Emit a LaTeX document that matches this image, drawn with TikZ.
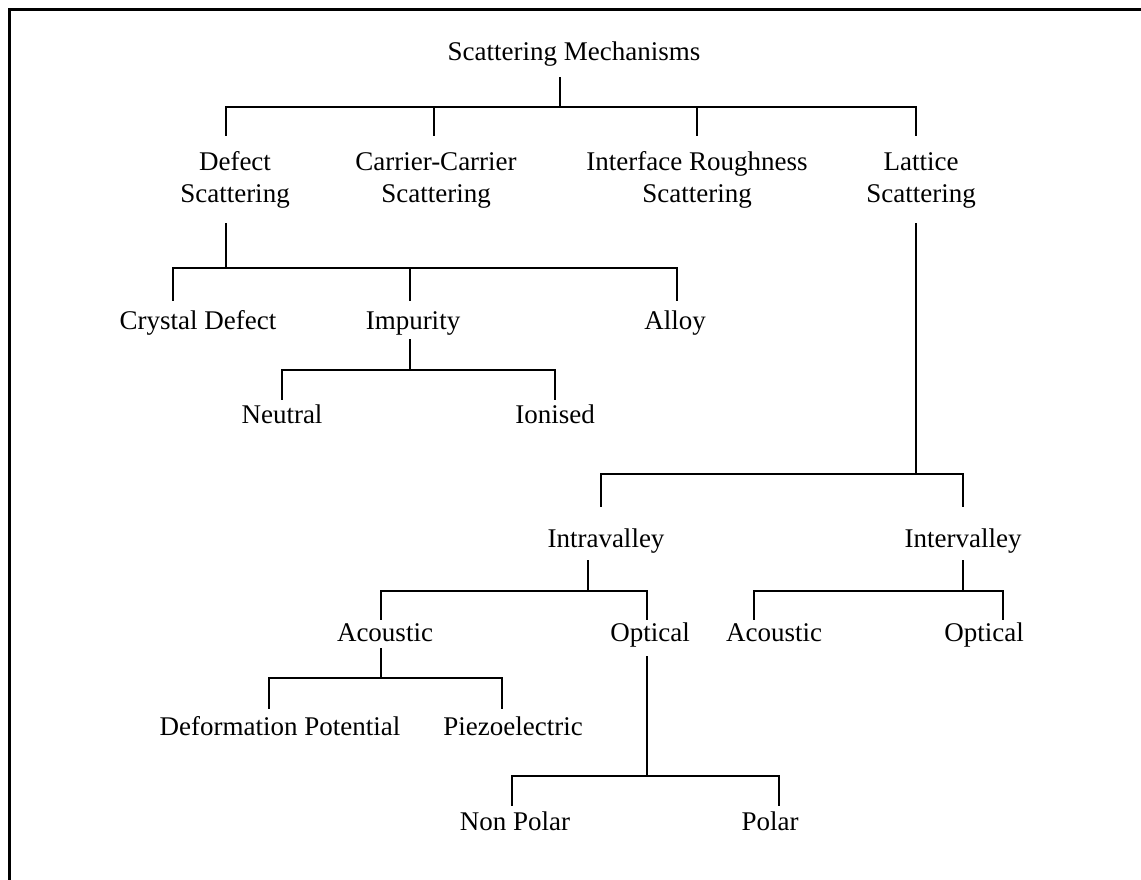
\documentclass[tikz,border=0pt]{standalone}
\usepackage{fontspec}
\setmainfont{Liberation Serif}
\usepackage{tikz}

\newcommand{\twoline}[2]{\begin{tabular}[t]{@{}c@{}}#1\\#2\end{tabular}}

\tikzset{
	lbl/.style={font=\fontsize{27}{32}\selectfont, inner sep=0pt, anchor=base, text height=26pt, text depth=12pt},
	duo/.style={lbl, text height=35pt, text depth=52pt},
	branch/.style={line width=2pt, line join=miter}
}

\begin{document}
\begin{tikzpicture}[x=1pt,y=-1pt]
		\useasboundingbox (0,0) rectangle (1141,880);
		\draw[line width=2.5pt] (1141,9.5)--(9.5,9.5)--(9.5,880);
		% levels of the bars
		\coordinate (b0) at (0,107);
		\coordinate (b1) at (0,268);
		\coordinate (b2) at (0,370);
		\coordinate (b3) at (0,474);
		\coordinate (b4) at (0,591);
		\coordinate (b5) at (0,678);
		\coordinate (b6) at (0,776);
		% labels
		\node[lbl, text depth=16pt] (root) at (574,61) {Scattering Mechanisms};
		\node[duo] (defect) at (235,171) {\twoline{Defect}{Scattering}};
		\node[duo] (carrier) at (436,171) {\twoline{Carrier-Carrier}{Scattering}};
		\node[duo] (interface) at (697,171) {\twoline{Interface Roughness}{Scattering}};
		\node[duo] (lattice) at (921,171) {\twoline{Lattice}{Scattering}};
		\node[lbl, text height=28pt, text depth=10pt] (crystal) at (198,329) {Crystal Defect};
		\node[lbl, text height=28pt, text depth=10pt] (impurity) at (413,329) {Impurity};
		\node[lbl, text height=28pt, text depth=10pt] (alloy) at (675,329) {Alloy};
		\node[lbl, text height=23pt] (neutral) at (282,423) {Neutral};
		\node[lbl, text height=23pt] (ionised) at (555,423) {Ionised};
		\node[lbl, text height=40pt, text depth=13pt] (intra) at (606,547) {Intravalley};
		\node[lbl, text height=40pt, text depth=13pt] (inter) at (963,547) {Intervalley};
		\node[lbl, text height=21pt, text depth=7pt] (acou) at (385,641) {Acoustic};
		\node[lbl, text height=21pt, text depth=15pt] (opt) at (650,641) {Optical};
		\node[lbl, text height=21pt] (racou) at (774,641) {Acoustic};
		\node[lbl, text height=21pt] (ropt) at (984,641) {Optical};
		\node[lbl, text height=26pt] (deform) at (280,735) {Deformation Potential};
		\node[lbl, text height=26pt] (piezo) at (513,735) {Piezoelectric};
		\node[lbl, text height=24pt] (nonpolar) at (515,830) {Non Polar};
		\node[lbl, text height=24pt] (polar) at (770,830) {Polar};
		% scattering mechanisms
		\draw[branch] ([xshift=-14pt]root.south)--([xshift=-14pt]root.south |- b0);
		\draw[branch] ([xshift=-9pt]defect.north) |- ([xshift=-5pt]lattice.north |- b0)--([xshift=-5pt]lattice.north);
		\draw[branch] ([xshift=-2pt]carrier.north)--([xshift=-2pt]carrier.north |- b0);
		\draw[branch] (interface.north)--(interface.north |- b0);
		% defect
		\draw[branch] ([xshift=-9pt]defect.south)--([xshift=-9pt]defect.south |- b1);
		\draw[branch] ([xshift=-25pt]crystal.north) |- ([xshift=2pt]alloy.north |- b1)--([xshift=2pt]alloy.north);
		\draw[branch] ([xshift=-3pt]impurity.north)--([xshift=-3pt]impurity.north |- b1);
		\draw[branch] ([xshift=-3pt]impurity.south)--([xshift=-3pt]impurity.south |- b2);
		\draw[branch] (neutral.north) |- (ionised.north |- b2)--(ionised.north);
		% lattice
		\draw[branch] ([xshift=-5pt]lattice.south)--([xshift=-5pt]lattice.south |- b3);
		\draw[branch] ([xshift=-5pt]intra.north) |- (inter.north |- b3)--(inter.north);
		\draw[branch] ([xshift=-18pt]intra.south)--([xshift=-18pt]intra.south |- b4);
		\draw[branch] ([xshift=-4pt]acou.north) |- ([xshift=-3pt]opt.north |- b4)--([xshift=-3pt]opt.north);
		\draw[branch] (inter.south)--(inter.south |- b4);
		\draw[branch] ([xshift=-20pt]racou.north) |- ([xshift=19pt]ropt.north |- b4)--([xshift=19pt]ropt.north);
		\draw[branch] ([xshift=-4pt]acou.south)--([xshift=-4pt]acou.south |- b5);
		\draw[branch] ([xshift=-11pt]deform.north) |- ([xshift=-11pt]piezo.north |- b5)--([xshift=-11pt]piezo.north);
		\draw[branch] ([xshift=-3pt]opt.south)--([xshift=-3pt]opt.south |- b6);
		\draw[branch] ([xshift=-3pt]nonpolar.north) |- ([xshift=9pt]polar.north |- b6)--([xshift=9pt]polar.north);
	\end{tikzpicture}
\end{document}
